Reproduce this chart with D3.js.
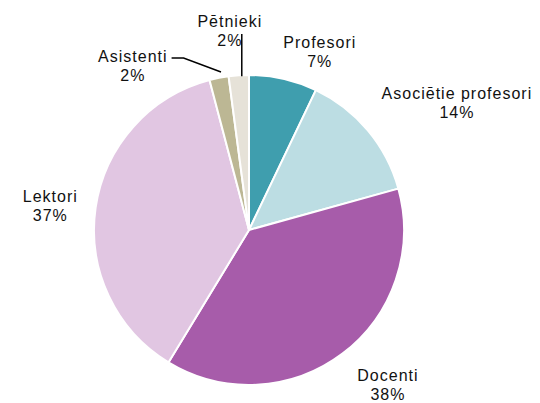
<!DOCTYPE html>
<html>
<head>
<meta charset="utf-8">
<script src="https://cdn.jsdelivr.net/npm/d3@7"></script>
<style>
	body { margin: 0; background: #fff; }
	svg text { font-family: "Liberation Sans", Arial, sans-serif; font-size: 16px; letter-spacing: 1px; fill: #111; }
</style>
</head>
<body>
<svg id="chart" width="540" height="403"></svg>
<script>
// data (share of staff, %)
const categories = ["Profesori", "Asociētie profesori", "Docenti", "Lektori", "Asistenti", "Pētnieki"];
const values = [7.1, 13.6, 38.0, 37.2, 2.0, 2.1];
const colors = ["#3f9eae", "#bcdde3", "#a75caa", "#e1c6e2", "#bcb794", "#e6e2d8"];

// labels that sit away from their slice with a leader line
const leaderLabels = {
	"Asistenti": { angle: -35.3, r: 201 },
	"Pētnieki": { angle: -5.5, r: 200 }
};
// small nudges so labels sit where the original placed them
const labelNudge = {
	"Profesori": [-4, 1],
	"Asociētie profesori": [0, -9],
	"Docenti": [4, 8],
	"Lektori": [0, 2]
};

const width = 540, height = 403;
const cx = 249, cy = 230, R = 155;

const svg = d3.select("#chart");
const g = svg.append("g").attr("transform", `translate(${cx},${cy})`);

const pie = d3.pie().sort(null).value(d => d.value);
const arcs = pie(categories.map((c, i) => ({ name: c, value: values[i], color: colors[i] })));
const arc = d3.arc().innerRadius(0).outerRadius(R);

g.selectAll("path.slice")
	.data(arcs)
	.join("path")
	.attr("class", "slice")
	.attr("d", arc)
	.attr("fill", d => d.data.color)
	.attr("stroke", "#fff")
	.attr("stroke-width", 2)
	.attr("stroke-linejoin", "round");

const lineH = 19;
const total = d3.sum(values);

arcs.forEach(d => {
	const mid = (d.startAngle + d.endAngle) / 2;
	const pct = Math.round(d.data.value / total * 100) + "%";

	const label = g.append("text").attr("text-anchor", "middle");
	label.append("tspan").attr("x", 0).attr("dy", 0).text(d.data.name);
	label.append("tspan").attr("x", 0).attr("dy", lineH).text(pct);
	const w = label.node().getBBox().width;
	const h = lineH * 2;

	let lx, ly;
	const lead = leaderLabels[d.data.name];
	if (lead) {
		const a = lead.angle * Math.PI / 180;
		lx = Math.sin(a) * lead.r;
		ly = -Math.cos(a) * lead.r;
	} else {
		const p = R + 10;
		const px = Math.sin(mid) * p, py = -Math.cos(mid) * p;
		lx = px + Math.sign(Math.sin(mid)) * (w / 2 + 8 * Math.abs(Math.sin(mid)));
		ly = py - Math.cos(mid) * (h / 2);
		const n = labelNudge[d.data.name] || [0, 0];
		lx += n[0];
		ly += n[1];
	}
	// center the two-line block on (lx, ly)
	label.attr("transform", `translate(${lx},${ly - h / 2 + 15})`);

	if (lead) {
		const end = [Math.sin(mid) * R, -Math.cos(mid) * R];
		let pts;
		if (d.data.name === "Pētnieki") {
			pts = [[end[0] + 3, ly + h / 2 - 16], [end[0] + 3, end[1] + 1]];
		} else {
			const sx = lx + w / 2 + 4, sy = ly - 8;
			pts = [[sx, sy], [sx + 12, sy], [end[0] + 2, end[1] - 6]];
		}
		g.append("path")
			.attr("d", d3.line()(pts))
			.attr("fill", "none")
			.attr("stroke", "#000")
			.attr("stroke-width", 1.5);
	}
});
</script>
</body>
</html>
